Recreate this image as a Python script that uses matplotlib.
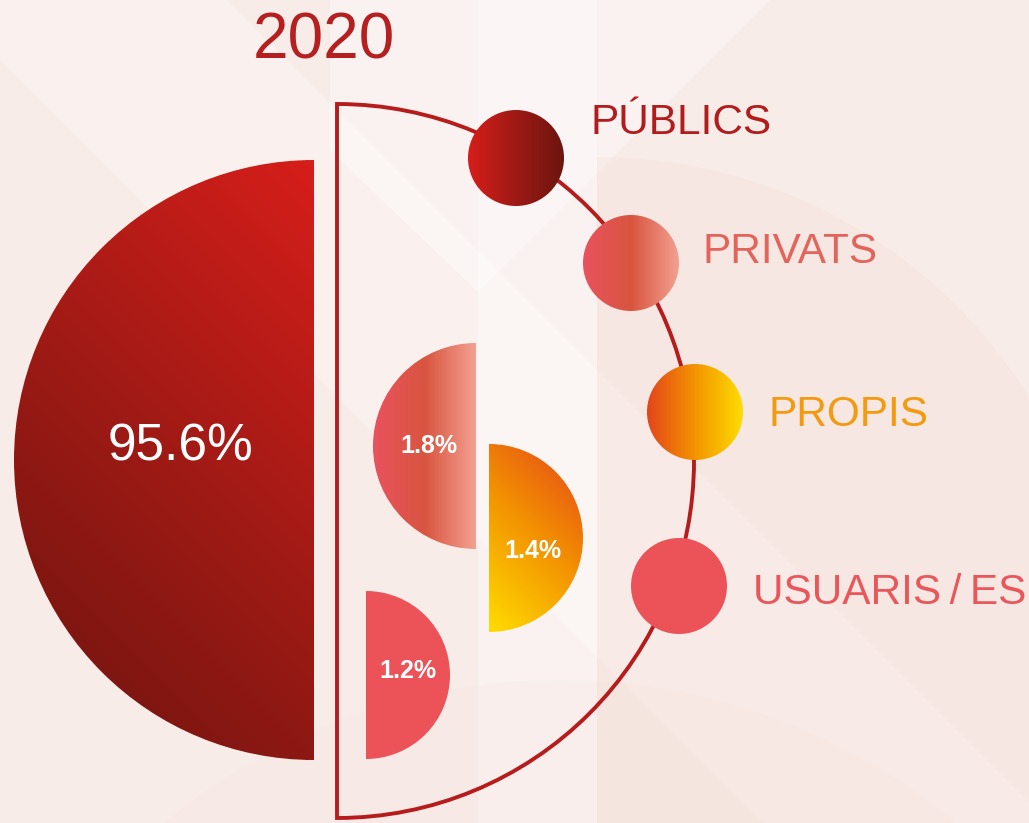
import numpy as np
import matplotlib.pyplot as plt
from matplotlib.patches import Wedge, Circle, Polygon, Rectangle
from matplotlib.colors import LinearSegmentedColormap

plt.rcParams['font.family'] = ['Liberation Sans', 'DejaVu Sans']

# data
year = '2020'
categories = ['PÚBLICS', 'PRIVATS', 'PROPIS', 'USUARIS\u2009/\u2009ES']
values = [95.6, 1.8, 1.4, 1.2]

# gradient stops for each category
grad_colors = [
    ['#D61E1A', '#9E1A15', '#6C140F'],
    ['#E8525E', '#D9553F', '#F2A091'],
    ['#E4451A', '#F39400', '#FFDC00'],
    ['#EC5358', '#EC5358'],
]
text_colors = ['#B21C1C', '#E3645A', '#F39A0E', '#E9575B']

# layout (pixels, y down): semicircle centre, radius, side, gradient direction
semis = [
    (314, 460, 300, 'left', (-1, 1)),
    (476, 446, 103, 'left', (1, 0)),
    (489, 538, 94, 'right', (-1, 1)),
    (366, 675, 84, 'right', (1, 0)),
]
value_pos = [(181, 460), (429, 453), (533, 558), (408, 678)]
dot_pos = [(516, 158), (631, 263), (695, 412), (679, 586)]
name_pos = [(590, 134), (703, 263), (769, 426), (753, 604)]

W, H = 1029, 823
fig = plt.figure(figsize=(W / 100, H / 100), dpi=100)
fig.patch.set_facecolor('#F8ECE8')
ax = fig.add_axes([0, 0, 1, 1])
ax.set_facecolor('#F8ECE8')
ax.axis('off')


def gradient(patch, colors, direction, z):
    ax.add_patch(patch)
    x0, y0, x1, y1 = patch.get_extents().transformed(ax.transData.inverted()).extents
    xa, xb = min(x0, x1), max(x0, x1)
    ya, yb = min(y0, y1), max(y0, y1)
    X, Y = np.meshgrid(np.linspace(xa, xb, 300), np.linspace(ya, yb, 300))
    t = X * direction[0] + Y * direction[1]
    t = (t - t.min()) / (t.max() - t.min())
    cmap = LinearSegmentedColormap.from_list('g', colors)
    im = ax.imshow(t, cmap=cmap, extent=(xa, xb, yb, ya), origin='upper',
                   aspect='auto', interpolation='bilinear', zorder=z)
    im.set_clip_path(patch)


ax.set_xlim(0, W)
ax.set_ylim(H, 0)

# background shapes
band = Polygon([(0, 0), (227, 0), (W, W - 227), (W, H), (H - 60, H), (0, 60)],
               closed=True, facecolor='white', alpha=0.3, lw=0, zorder=0)
ax.add_patch(band)
ax.add_patch(Polygon([(330, 0), (770, 0), (478, 292), (330, 150)], closed=True,
                     facecolor='white', alpha=0.35, lw=0, zorder=0))
ax.add_patch(Rectangle((478, 0), 119, H, facecolor='white', alpha=0.35, lw=0, zorder=0))
big = Circle((597, 666), 509, facecolor='#F2D2CC', alpha=0.18, lw=0, zorder=0)
ax.add_patch(big)
big.set_clip_path(Rectangle((597, 0), W - 597, H, transform=ax.transData))
corner = Circle((560, 1300), 620, facecolor='#F2D8D0', alpha=0.12, lw=0, zorder=0)
ax.add_patch(corner)

# outline half circle
ax.add_patch(Wedge((337, 461), 357, -90, 90, facecolor='none',
                   edgecolor='#B71C1C', lw=2.8, zorder=2))

# semicircles
for (cx, cy, r, side, d), cols in zip(semis, grad_colors):
    t1, t2 = (90, 270) if side == 'left' else (-90, 90)
    w = Wedge((cx, cy), r, t1, t2, facecolor='none', edgecolor='none')
    gradient(w, cols, d, 3)

for i, (v, (x, y)) in enumerate(zip(values, value_pos)):
    if i == 0:
        ax.text(x, y, f'{v:.1f}%', color='white', fontsize=37,
                ha='center', va='baseline', zorder=5)
    else:
        ax.text(x, y, f'{v:.1f}%', color='white', fontsize=18, fontweight='bold',
                ha='center', va='baseline', zorder=5)

# legend dots and names
dot_dirs = [(1, 0), (1, 0), (1, 0), (1, 0)]
for (x, y), cols, d in zip(dot_pos, grad_colors, dot_dirs):
    gradient(Circle((x, y), 48, facecolor='none', edgecolor='none'), cols, d, 4)

for name, (x, y), c in zip(categories, name_pos, text_colors):
    ax.text(x, y, name, color=c, fontsize=30.5, ha='left', va='baseline', zorder=5)

ax.text(324, 58, year, color='#B51F1F', fontsize=46, ha='center', va='baseline', zorder=5)

ax.set_xlim(0, W)
ax.set_ylim(H, 0)
fig.savefig('out.png', dpi=100, facecolor=fig.get_facecolor())
